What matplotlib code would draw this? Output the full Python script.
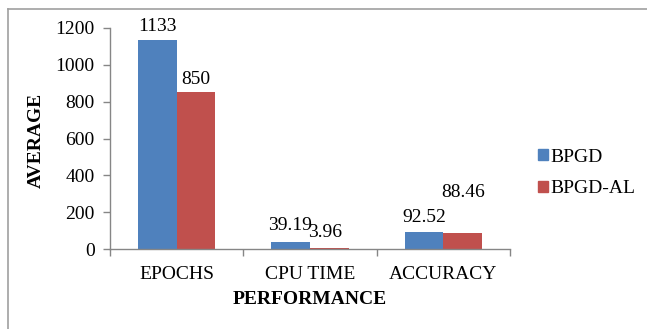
import numpy as np
from matplotlib import pyplot as plt
from matplotlib.patches import Patch
from matplotlib.lines import Line2D

categories = ['EPOCHS', 'CPU TIME', 'ACCURACY']
bpgd = [1133, 39.19, 92.52]
bpgd_al = [850, 3.96, 88.46]
bpgd_labels = ['1133', '39.19', '92.52']
bpgd_al_labels = ['850', '3.96', '88.46']

blue = '#4F81BD'
red = '#C0504D'
axis_grey = '#868686'

plt.rcParams['font.family'] = ['Liberation Serif', 'DejaVu Serif']
plt.rcParams['font.size'] = 14

fig = plt.figure(figsize=(6.47, 3.29), dpi=100)
ax = fig.add_axes([110 / 647, 1 - 249 / 329, 400 / 647, 221 / 329])

x = np.arange(len(categories))
w = 0.29
ax.bar(x - w / 2, bpgd, w, color=blue, label='BPGD')
ax.bar(x + w / 2, bpgd_al, w, color=red, label='BPGD-AL')

# value labels, pixel offsets above each bar top
blue_off = [(0, 16), (-1, 18), (0, 16)]
red_off = [(0, 15), (-4, 18), (0, 42)]
for i in range(len(categories)):
    ax.annotate(bpgd_labels[i], (x[i] - w / 2, bpgd[i]), xytext=blue_off[i],
                textcoords='offset pixels', ha='center', va='center_baseline')
    ax.annotate(bpgd_al_labels[i], (x[i] + w / 2, bpgd_al[i]), xytext=red_off[i],
                textcoords='offset pixels', ha='center', va='center_baseline')

ax.set_xlim(-0.5, 2.5)
ax.set_ylim(0, 1200)
ax.set_yticks(range(0, 1201, 200))
ax.set_xticks(x)
ax.set_xticklabels(categories)
ax.set_xticks([-0.5, 0.5, 1.5, 2.5], minor=True)
ax.tick_params(axis='x', which='major', length=0, pad=12)
ax.tick_params(axis='x', which='minor', length=5, color=axis_grey, width=1)
ax.tick_params(axis='y', length=5, color=axis_grey, width=1, pad=6)

for s in ['top', 'right']:
    ax.spines[s].set_visible(False)
for s in ['left', 'bottom']:
    ax.spines[s].set_color(axis_grey)
    ax.spines[s].set_linewidth(1)

fig.text(36 / 647, 1 - 140 / 329, 'AVERAGE', rotation=90, ha='center', va='center',
         fontweight='bold')
fig.text(310 / 647, 1 - 300 / 329, 'PERFORMANCE', ha='center', va='center',
         fontweight='bold')

handles = [Patch(color=blue), Patch(color=red)]
fig.legend(handles, ['BPGD', 'BPGD-AL'], loc='upper left',
           bbox_to_anchor=(530 / 647, 1 - 141 / 329), frameon=False,
           handlelength=0.5, handleheight=0.5, handletextpad=0.15,
           labelspacing=0.75, borderaxespad=0)

# outer frame (top and left edges)
fig.add_artist(Line2D([8 / 647, 1], [1 - 9 / 329, 1 - 9 / 329], color='#A0A0A0', lw=1.2))
fig.add_artist(Line2D([8 / 647, 8 / 647], [0, 1 - 9 / 329], color='#A0A0A0', lw=1.2))

fig.savefig('out.png', dpi=100)
